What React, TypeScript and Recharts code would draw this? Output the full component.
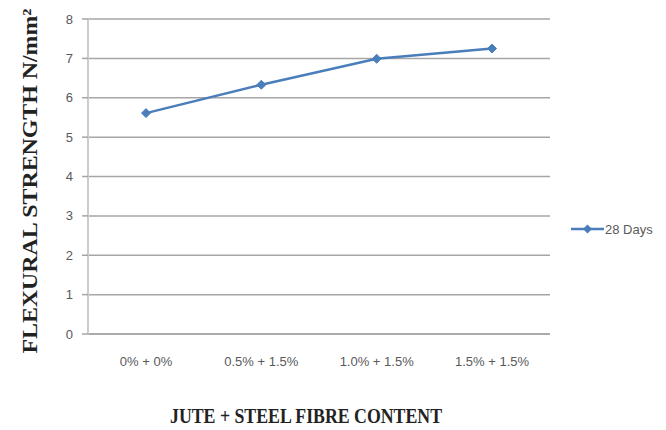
import { LineChart, Line, XAxis, YAxis, CartesianGrid, Legend } from 'recharts'

const categories = ['0% + 0%', '0.5% + 1.5%', '1.0% + 1.5%', '1.5% + 1.5%']
const days28 = [5.61, 6.33, 6.99, 7.25]
const yTicks = [0, 1, 2, 3, 4, 5, 6, 7, 8]

const data = categories.map((name, i) => ({ name, d28: days28[i] }))

const BLUE = '#4a7ebb'
const GRID = '#a6a6a6'
const TICK = { fontSize: 13, fill: '#595959', fontFamily: 'Liberation Sans, Arial, sans-serif' }

const Diamond = (props: any) => {
  const { cx, cy } = props
  if (cx == null || cy == null) return null
  const r = 4.5
  return (
    <path
      d={`M${cx},${cy - r} L${cx + r},${cy} L${cx},${cy + r} L${cx - r},${cy} Z`}
      fill={BLUE}
      stroke={BLUE}
    />
  )
}

const LegendItem = () => (
  <svg width={90} height={16} style={{ display: 'block' }}>
    <line x1={0} y1={8} x2={33} y2={8} stroke={BLUE} strokeWidth={2.5} />
    <path d="M16.5,3.5 L21,8 L16.5,12.5 L12,8 Z" fill={BLUE} />
    <text x={34} y={12.5} {...TICK}>28 Days</text>
  </svg>
)

const titleFont = "'Liberation Serif', 'Times New Roman', serif"

export default function App() {
  return (
    <div style={{ position: 'absolute', left: 0, top: 0, background: '#fff' }}>
      <LineChart
        width={666}
        height={430}
        data={data}
        margin={{ top: 19, right: 116, left: 0, bottom: 0 }}
      >
        <CartesianGrid vertical={false} stroke={GRID} strokeWidth={1.5} />
        <XAxis
          dataKey="name"
          height={96}
          tick={TICK}
          tickLine={false}
          tickSize={0}
          tickMargin={23}
          padding={{ left: 58, right: 58 }}
          axisLine={{ stroke: GRID, strokeWidth: 1.5 }}
          interval={0}
        />
        <YAxis
          width={88}
          domain={[0, 8]}
          ticks={yTicks}
          tick={TICK}
          tickSize={6}
          tickMargin={9}
          tickLine={{ stroke: GRID, strokeWidth: 1.5 }}
          axisLine={{ stroke: '#cccccc', strokeWidth: 2 }}
        />
        <Legend
          layout="vertical"
          align="center"
          verticalAlign="middle"
          content={() => <LegendItem />}
          wrapperStyle={{ left: 571, top: 221, width: 90 }}
        />
        <Line
          dataKey="d28"
          name="28 Days"
          stroke={BLUE}
          strokeWidth={2.5}
          dot={<Diamond />}
          isAnimationActive={false}
        />
        <text
          x={306}
          y={423}
          textAnchor="middle"
          fontFamily={titleFont}
          fontWeight="bold"
          fontSize={21}
          fill="#222"
          textLength={272}
          lengthAdjust="spacingAndGlyphs"
        >
          JUTE + STEEL FIBRE CONTENT
        </text>
        <text
          transform="translate(37,181) rotate(-90)"
          x={0}
          y={0}
          textAnchor="middle"
          fontFamily={titleFont}
          fontWeight="bold"
          fontSize={21}
          fill="#222"
          textLength={345}
          lengthAdjust="spacingAndGlyphs"
        >
          FLEXURAL  STRENGTH  N/mm²
        </text>
      </LineChart>
    </div>
  )
}
